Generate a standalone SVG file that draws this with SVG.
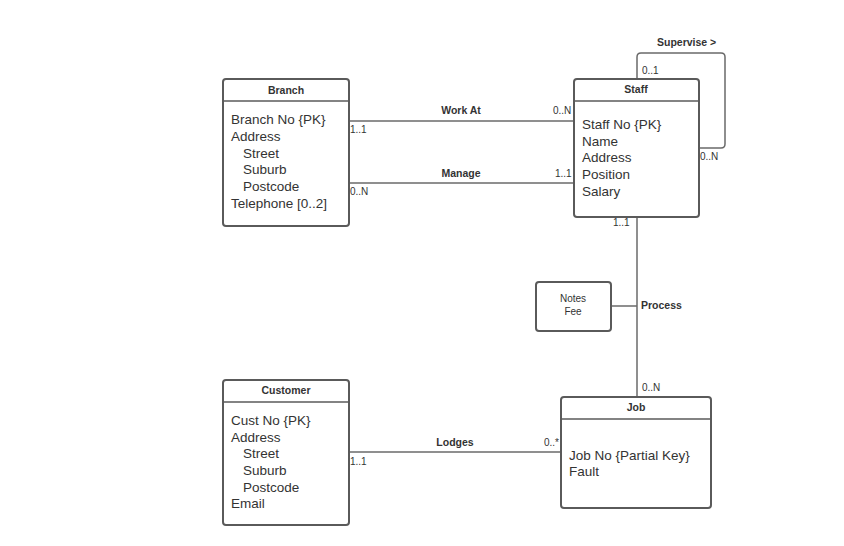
<svg xmlns="http://www.w3.org/2000/svg" width="844" height="546" viewBox="0 0 844 546">
<style>
.box{fill:#fff;stroke:#5a5a5a;stroke-width:2}
.hd{stroke:#5a5a5a;stroke-width:1.5}
.ln{fill:none;stroke:#6a6a6a;stroke-width:1.5}
.t{font-family:"Liberation Sans",Arial,sans-serif;fill:#333}
.title{font-size:10.5px;font-weight:bold;text-anchor:middle}
.attr{font-size:13.5px}
.lbl{font-size:10.5px;font-weight:bold}
.m{font-size:10px}
</style>
<rect width="844" height="546" fill="#fff"/>
<g id="connectors">
<line class="ln" x1="349" y1="121" x2="574" y2="121"/>
<line class="ln" x1="349" y1="183" x2="574" y2="183"/>
<path class="ln" d="M637 79 V57 Q637 53 641 53 H721 Q725 53 725 57 V144 Q725 148 721 148 H699"/>
<line class="ln" x1="637" y1="217" x2="637" y2="397"/>
<line class="ln" x1="611" y1="306" x2="637" y2="306"/>
<line class="ln" x1="349" y1="452" x2="561" y2="452"/>
<text class="t lbl" x="461" y="114" text-anchor="middle">Work At</text>
<text class="t m" x="553" y="114">0..N</text>
<text class="t m" x="350" y="133">1..1</text>
<text class="t lbl" x="461" y="177" text-anchor="middle">Manage</text>
<text class="t m" x="555" y="177">1..1</text>
<text class="t m" x="350" y="195">0..N</text>
<text class="t lbl" x="657" y="46">Supervise &gt;</text>
<text class="t m" x="642" y="74">0..1</text>
<text class="t m" x="700" y="160">0..N</text>
<text class="t m" x="613" y="226">1..1</text>
<text class="t lbl" x="641" y="309">Process</text>
<text class="t m" x="642" y="391">0..N</text>
<text class="t lbl" x="455" y="446" text-anchor="middle">Lodges</text>
<text class="t m" x="544" y="446">0..*</text>
<text class="t m" x="350" y="465">1..1</text>
</g>
<g id="branch">
<rect class="box" x="223" y="79" width="126" height="147" rx="3"/>
<line class="hd" x1="223" y1="101" x2="349" y2="101"/>
<text class="t title" x="286" y="94">Branch</text>
<text class="t attr" x="231" y="124">Branch No {PK}</text>
<text class="t attr" x="231" y="141">Address</text>
<text class="t attr" x="243" y="158">Street</text>
<text class="t attr" x="243" y="174">Suburb</text>
<text class="t attr" x="243" y="191">Postcode</text>
<text class="t attr" x="231" y="208">Telephone [0..2]</text>
</g>
<g id="staff">
<rect class="box" x="574" y="79" width="125" height="138" rx="3"/>
<line class="hd" x1="574" y1="101" x2="699" y2="101"/>
<text class="t title" x="636" y="93">Staff</text>
<text class="t attr" x="582" y="129">Staff No {PK}</text>
<text class="t attr" x="582" y="146">Name</text>
<text class="t attr" x="582" y="162">Address</text>
<text class="t attr" x="582" y="179">Position</text>
<text class="t attr" x="582" y="196">Salary</text>
</g>
<g id="notes">
<rect class="box" x="536" y="282" width="75" height="49" rx="3"/>
<text class="t m" x="573" y="302" text-anchor="middle" font-size="11">Notes</text>
<text class="t m" x="573" y="315" text-anchor="middle" font-size="11">Fee</text>
</g>
<g id="customer">
<rect class="box" x="223" y="380" width="126" height="145" rx="3"/>
<line class="hd" x1="223" y1="402" x2="349" y2="402"/>
<text class="t title" x="286" y="394">Customer</text>
<text class="t attr" x="231" y="425">Cust No {PK}</text>
<text class="t attr" x="231" y="442">Address</text>
<text class="t attr" x="243" y="458">Street</text>
<text class="t attr" x="243" y="475">Suburb</text>
<text class="t attr" x="243" y="492">Postcode</text>
<text class="t attr" x="231" y="508">Email</text>
</g>
<g id="job">
<rect class="box" x="561" y="397" width="150" height="111" rx="3"/>
<line class="hd" x1="561" y1="419" x2="711" y2="419"/>
<text class="t title" x="636" y="411">Job</text>
<text class="t attr" x="569" y="460">Job No {Partial Key}</text>
<text class="t attr" x="569" y="476">Fault</text>
</g>
</svg>
